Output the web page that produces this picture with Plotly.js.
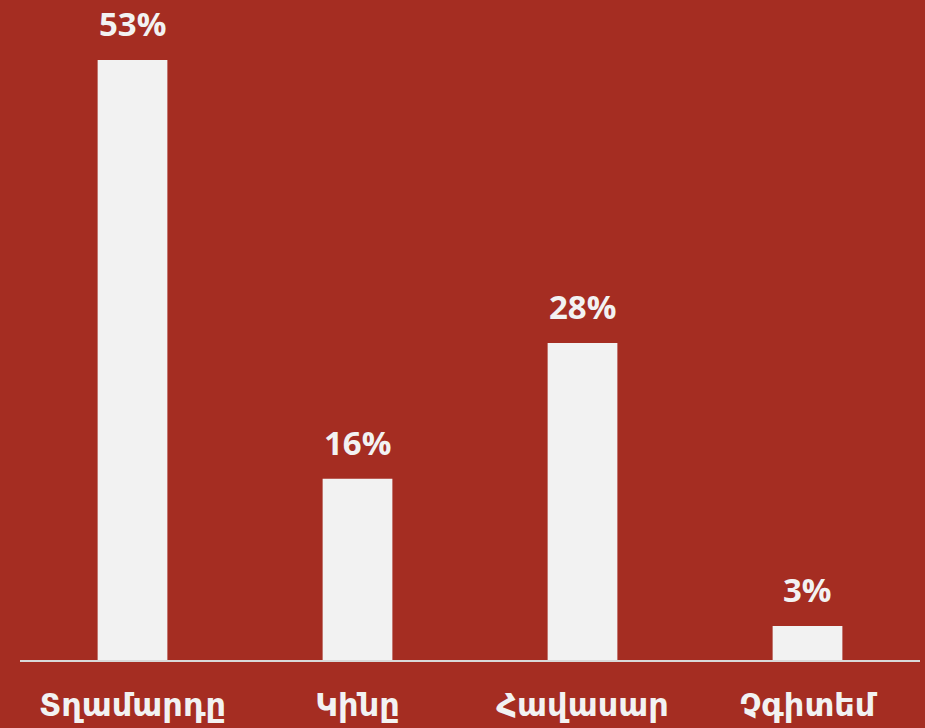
<!DOCTYPE html>
<html>
<head>
<meta charset="utf-8">
<script src="https://cdn.plot.ly/plotly-3.0.1.min.js"></script>
<style>html,body{margin:0;padding:0;background:#A52D22;}</style>
</head>
<body>
<div id="chart" style="width:925px;height:728px;"></div>
<script>
const categories = ["Տղամարդը", "Կինը", "Հավասար", "Չգիտեմ"];
const values = [53, 16, 28, 3];
const valueLabels = ["53%", "16%", "28%", "3%"];

const trace = {
  type: "bar",
  x: categories,
  y: values,
  marker: {color: "#F2F2F2"},
  hoverinfo: "skip"
};

const annotations = categories.map((c, i) => ({
  x: c, y: values[i], xref: "x", yref: "y",
  text: valueLabels[i], showarrow: false,
  yanchor: "bottom", yshift: 13, borderpad: 0,
  font: {family: "Open Sans, Lato, sans-serif", size: 33, color: "#F2F2F2", weight: 700}
}));

const layout = {
  width: 925, height: 728,
  paper_bgcolor: "#A52D22", plot_bgcolor: "#A52D22",
  margin: {l: 20, r: 5, t: 0, b: 68},
  bargap: 0.69,
  showlegend: false,
  xaxis: {
    showline: true, linecolor: "#D9D9D9", linewidth: 2,
    showgrid: false, zeroline: false, ticks: "",
    tickfont: {family: "Noto Sans, DejaVu Sans, sans-serif", size: 32, color: "#F2F2F2", weight: 700},
    ticklabelstandoff: 16
  },
  yaxis: {
    range: [0, 58.3], visible: false, showgrid: false, zeroline: false
  },
  annotations: annotations
};

Plotly.newPlot("chart", [trace], layout, {displayModeBar: false, staticPlot: true});
</script>
</body>
</html>
